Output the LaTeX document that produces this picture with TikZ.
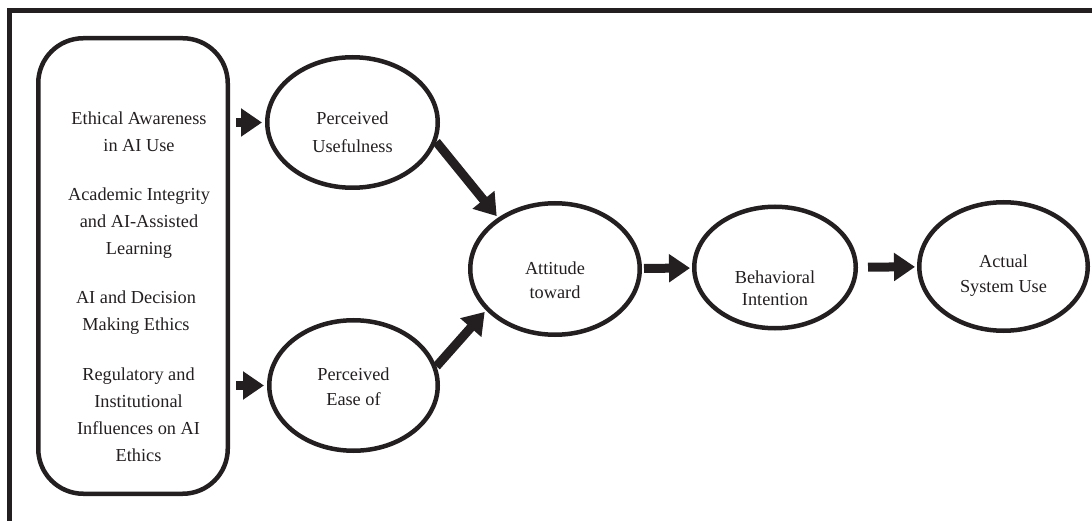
\documentclass[tikz,border=0pt]{standalone}
\usepackage{fontspec}
\setmainfont{Liberation Serif}
\usetikzlibrary{arrows.meta,shapes.geometric}
\definecolor{ink}{RGB}{35,31,32}

\begin{document}
\begin{tikzpicture}[x=1pt, y=-1pt, line width=4.5pt, color=ink,
	construct/.style={ellipse, draw},
	item/.style={align=center, inner sep=0pt, font=\fontsize{18.3}{27}\selectfont},
	fat/.style={line width=9pt, -{Triangle[length=21pt, width=27pt]}}]
	\clip (0,0) rectangle (1092,521);
	\draw (9.5,10.5) rectangle (1120,550);

	\node[draw, rounded corners=45pt, minimum width=189.5pt, minimum height=455.5pt] (factors) at (133,266) {};
	\node[item] (awareness) at (139,132) {Ethical Awareness\\in AI Use};
	\node[item] (integrity) at (139,223) {Academic Integrity\\and AI-Assisted\\Learning};
	\node[item] (decision) at (136,312.5) {AI and Decision\\Making Ethics};
	\node[item] (regulatory) at (138.5,415) {Regulatory and\\Institutional\\Influences on AI\\Ethics};

	\node[construct, minimum width=170.5pt, minimum height=130.5pt, label={[item, font=\fontsize{18.3}{28}\selectfont, yshift=-9.5pt]center:{Perceived\\Usefulness}}] (pu) at (352.5,122.5) {};
	\node[construct, minimum width=168.5pt, minimum height=130.5pt, label={[item, font=\fontsize{18.3}{25}\selectfont, yshift=-1pt]center:{Perceived\\Ease of}}] (pe) at (353.5,385.5) {};
	\node[construct, minimum width=169.5pt, minimum height=131.5pt, label={[item, font=\fontsize{18.3}{24}\selectfont, yshift=-11pt]center:{Attitude\\toward}}] (att) at (555,269) {};
	\node[construct, minimum width=161.5pt, minimum height=121.5pt, label={[item, font=\fontsize{18.3}{22}\selectfont, yshift=-21pt]center:{Behavioral\\Intention}}] (bi) at (775,267.5) {};
	\node[construct, minimum width=168.5pt, minimum height=128.5pt, label={[item, font=\fontsize{18.3}{25}\selectfont, yshift=-9pt]center:{Actual\\System Use}}] (asu) at (1003.5,266.5) {};

	% Arrows
	\draw[fat, shorten <=6pt, shorten >=3pt] (factors.east |- pu) -- (pu.west);
	\draw[fat, shorten <=6pt, shorten >=3pt] (factors.east |- pe) -- (pe.west);
	\draw[fat, shorten >=2pt] (pu.-13) -- (att.138);
	\draw[fat, shorten >=2pt] (pe.13) -- (att.211);
	\draw[fat, shorten <=2pt, shorten >=2pt] (att) -- (bi);
	\draw[fat, shorten <=10pt, shorten >=2pt] (bi) -- (asu);
\end{tikzpicture}
\end{document}
